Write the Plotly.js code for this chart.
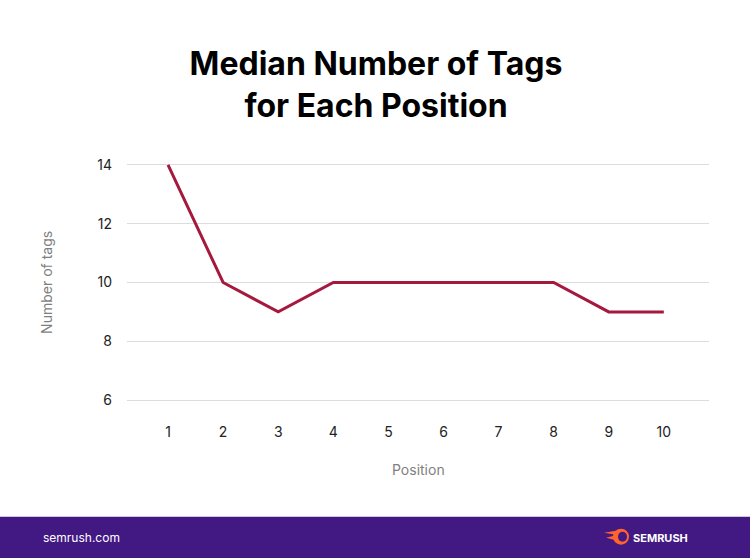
<!DOCTYPE html>
<html>
<head>
<meta charset="utf-8">
<script src="https://cdn.plot.ly/plotly-3.0.1.min.js"></script>
<style>
  html, body { margin: 0; padding: 0; background: #fff; }
  #chart { width: 750px; height: 558px; }
</style>
</head>
<body>
<div id="chart"></div>
<script>
// data
const positions = [1, 2, 3, 4, 5, 6, 7, 8, 9, 10];
const medianTags = [14, 10, 9, 10, 10, 10, 10, 10, 9, 9];
const yTicks = [6, 8, 10, 12, 14];

// plot box in pixels
const W = 750, H = 558;
const mL = 127, mR = 41, mT = 162, mB = 154.8;
const plotW = W - mL - mR, plotH = H - mT - mB;

// pixel -> paper helpers (for decorations only)
const px = x => (x - mL) / plotW;
const py = y => (H - mB - y) / plotH;

const footerColor = '#421983';
const orange = '#ff642d';

const trace = {
  x: positions,
  y: medianTags,
  type: 'scatter',
  mode: 'lines',
  line: { color: '#a6193f', width: 3 },
  hoverinfo: 'x+y'
};

const shapes = [
  // footer band
  { type: 'rect', xref: 'paper', yref: 'paper', x0: px(0), x1: px(W), y0: py(517), y1: py(H + 2),
    fillcolor: footerColor, line: { width: 0 }, layer: 'below' },
  // logo: fireball
  { type: 'circle', xref: 'paper', yref: 'paper', x0: px(613), x1: px(629), y0: py(545), y1: py(529),
    fillcolor: orange, line: { width: 0 } },
  { type: 'circle', xref: 'paper', yref: 'paper', x0: px(618), x1: px(627), y0: py(542), y1: py(532),
    fillcolor: footerColor, line: { width: 0 } },
  { type: 'path', xref: 'paper', yref: 'paper',
    path: 'M ' + px(604) + ' ' + py(533) + ' L ' + px(616) + ' ' + py(531) + ' L ' + px(616) + ' ' + py(535) + ' Z',
    fillcolor: orange, line: { width: 0 } },
  { type: 'path', xref: 'paper', yref: 'paper',
    path: 'M ' + px(606) + ' ' + py(538) + ' L ' + px(614) + ' ' + py(536) + ' L ' + px(614) + ' ' + py(540) + ' Z',
    fillcolor: orange, line: { width: 0 } }
];

const annotations = [
  { text: 'Number of tags', xref: 'paper', yref: 'paper', x: px(47), y: py(283),
    textangle: -90, showarrow: false, xanchor: 'center', yanchor: 'middle',
    font: { family: 'Inter, sans-serif', size: 14, color: '#7f7f7f' } },
  { text: 'Position', xref: 'paper', yref: 'paper', x: px(418), y: py(470),
    showarrow: false, xanchor: 'center', yanchor: 'middle',
    font: { family: 'Inter, sans-serif', size: 14, color: '#7f7f7f' } },
  { text: 'semrush.com', xref: 'paper', yref: 'paper', x: px(41), y: py(538),
    showarrow: false, xanchor: 'left', yanchor: 'middle',
    font: { family: 'Inter, sans-serif', size: 12, color: '#ffffff' } },
  { text: '<b>SEMRUSH</b>', xref: 'paper', yref: 'paper', x: px(631), y: py(538),
    showarrow: false, xanchor: 'left', yanchor: 'middle',
    font: { family: 'Inter, sans-serif', size: 11, color: '#ffffff' } }
];

const layout = {
  width: W,
  height: H,
  margin: { l: mL, r: mR, t: mT, b: mB, pad: 0 },
  paper_bgcolor: '#ffffff',
  plot_bgcolor: '#ffffff',
  showlegend: false,
  title: {
    text: '<b>Median Number of Tags<br>for Each Position</b>',
    xref: 'paper', x: px(376), xanchor: 'center',
    yref: 'container', y: 1 - 75 / H, yanchor: 'top',
    font: { family: 'Inter, sans-serif', size: 32, color: '#000000' }
  },
  xaxis: {
    range: [0.255, 10.82],
    tickvals: positions,
    showgrid: false,
    zeroline: false,
    showline: false,
    ticks: '',
    ticklabelstandoff: 19,
    tickfont: { family: 'Inter, sans-serif', size: 14, color: '#222222' },
    fixedrange: true
  },
  yaxis: {
    range: [5.9, 14.1],
    tickvals: yTicks,
    showgrid: true,
    gridcolor: '#dcdcdc',
    gridwidth: 1,
    zeroline: false,
    showline: false,
    ticks: '',
    ticklabelstandoff: 14,
    tickfont: { family: 'Inter, sans-serif', size: 14, color: '#222222' },
    fixedrange: true
  },
  shapes: shapes,
  annotations: annotations
};

Plotly.newPlot('chart', [trace], layout, { displayModeBar: false, staticPlot: true });
</script>
</body>
</html>
